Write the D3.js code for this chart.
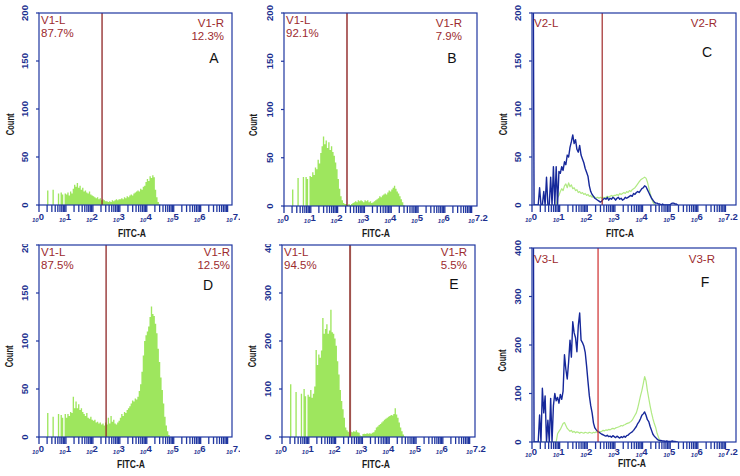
<!DOCTYPE html>
<html><head><meta charset="utf-8">
<script src="https://cdn.jsdelivr.net/npm/d3@7"></script>
<style>html,body{margin:0;padding:0;background:#fff;} svg{display:block;font-family:"Liberation Sans",Arial,sans-serif;}</style>
</head><body><svg id="c" width="740" height="476"></svg>
<script>
// ---------- data ----------
const BIN = 0.05; // decades per histogram bin (bin i starts at 10^(i*BIN))
const X_TICK_EXPS = [0, 1, 2, 3, 4, 5, 6, 7.2];
const X_TICK_LABELS = ["0", "1", "2", "3", "4", "5", "6", "7.2"];
const Y_TICKS_200 = [0, 50, 100, 150, 200];
const Y_TICKS_400 = [0, 100, 200, 300, 400];
const Y_MAX = [200, 200, 200, 200, 400, 400];
const PANEL_LETTERS = ["A", "B", "C", "D", "E", "F"];
const GATES = [2.34, 2.35, 2.54, 2.49, 2.54, 2.39]; // log10 of gate position
const GATE_LEFT = [["V1-L", "87.7%"], ["V1-L", "92.1%"], ["V2-L"], ["V1-L", "87.5%"], ["V1-L", "94.5%"], ["V3-L"]];
const GATE_RIGHT = [["V1-R", "12.3%"], ["V1-R", "7.9%"], ["V2-R"], ["V1-R", "12.5%"], ["V1-R", "5.5%"], ["V3-R"]];
const X_TITLE = "FITC-A";
const Y_TITLE = "Count";

const histA = [0,0,0,0,0,0,15,0,0,0,
  16,0,0,0,12,0,13,11,0,12,
  11,13,10,14,12,17,21,19,23,18,
  20,16,18,14,15,13,12,14,11,10,
  9,8,7,8,6,7,5,6,5,4,
  4,3,4,3,5,4,5,6,5,6,
  6,7,6,8,7,9,8,10,11,10,
  12,13,14,15,14,17,16,19,20,24,
  27,25,30,28,31,29,16,8,3,1];
const histB = [0,0,0,0,0,0,17,0,0,0,
  29,0,0,0,30,0,30,28,0,31,
  30,35,32,40,38,48,44,55,62,72,
  64,68,60,66,58,62,56,52,45,38,
  28,18,10,6,3,2,2,1,2,1,
  2,3,4,5,4,6,5,6,5,4,
  6,5,6,4,5,3,4,5,6,7,
  8,10,9,11,12,13,12,14,16,15,
  17,19,21,18,15,13,10,7,4,1];
const histCblue = [400,0,0,0,0,18,0,0,14,0,
  29,0,0,29,0,40,0,40,0,35,
  33,40,36,45,42,52,50,60,66,73,
  64,68,58,55,62,52,48,44,38,34,
  30,20,14,11,9,7,6,5,4,3,
  4,6,7,6,8,5,7,6,8,7,
  5,7,8,6,7,5,6,8,7,8,
  9,10,9,12,11,13,14,13,15,17,
  18,20,19,16,13,10,7,5,3,2,
  2,1,1,0,1,0,0,0,0,0,
  1,2,2,1,1,0];
const histCgreen = [0,0,0,0,0,0,0,0,0,0,
  0,0,0,0,0,0,0,0,8,10,
  14,17,15,20,22,18,23,19,21,17,
  18,15,16,13,14,12,13,11,12,10,
  11,9,10,8,9,8,7,8,7,8,
  7,8,7,8,9,8,9,10,9,10,
  10,11,10,12,11,12,13,12,14,13,
  15,14,16,17,18,20,22,24,26,27,
  28,29,28,24,18,12,7,3,1,0];
const histD = [0,0,0,0,0,0,25,0,0,0,
  21,0,0,0,24,0,23,20,0,24,
  20,24,22,26,25,42,30,37,30,34,
  28,30,26,24,22,25,20,19,21,18,
  17,18,15,16,14,15,13,14,12,15,
  13,20,14,22,16,18,14,13,15,17,
  20,24,22,26,25,28,30,32,35,38,
  37,40,39,42,48,55,68,85,100,106,
  110,115,125,136,128,126,118,108,92,78,
  62,49,35,21,12,6,2];
const histE = [0,0,0,0,0,0,110,0,0,0,
  94,0,0,0,90,0,100,85,0,88,
  84,98,82,90,105,181,150,172,165,180,
  248,215,225,235,215,222,265,218,215,205,
  190,158,130,98,75,58,40,20,14,11,
  9,11,10,12,11,14,10,9,3,2,
  6,7,6,8,7,8,7,9,10,14,
  20,22,25,27,30,33,36,38,40,42,
  44,46,45,48,60,47,40,30,20,12,
  5,1];
const histFblue = [900,0,0,0,0,56,0,111,60,95,
  0,45,0,90,0,75,100,85,92,80,
  98,88,105,180,150,130,165,210,175,248,
  225,215,186,240,266,210,205,198,185,157,
  125,95,75,60,39,29,25,22,20,18,
  16,15,13,12,14,11,12,10,13,11,
  9,12,10,8,11,9,12,10,13,14,
  17,19,21,24,28,32,38,42,48,55,
  58,62,55,46,42,32,24,16,12,9,
  6,4,3,3,2,2,1,2,1,1,
  1,2,1,1,0,0];
const histFgreen = [0,0,0,0,0,0,0,0,0,0,
  0,0,0,0,0,0,0,0,17,22,
  26,32,38,40,34,28,25,22,24,20,
  22,19,21,20,18,20,19,18,20,19,
  18,20,19,18,20,19,21,20,22,21,
  22,24,23,25,24,26,25,27,28,27,
  29,30,31,32,34,33,35,36,38,39,
  40,42,45,50,55,60,70,82,95,106,
  120,135,126,106,90,74,60,48,38,30,
  18,10,3,0];

// ---------- layout ----------
const FILL_SERIES = [histA, histB, null, histD, histE, null];
const LINE_SERIES = [[], [], [histCgreen, histCblue], [], [], [histFgreen, histFblue]];
const LAYOUT = [
  {f:[39,13,232,205], xr:[39,233], cell:[0,0,240,238], cdx:29, fitc:[132,237], tdy:15, lastDx:0, lx:41, ly:[24,37], rx:224, ry:[27,40], letter:[214,63], gc:"#8e2424", gw:1.3},
  {f:[284,13,477,206], xr:[284,477], cell:[240,0,490,238], cdx:31, fitc:[376,237], tdy:15, lastDx:-2, lx:286, ly:[24,37], rx:462, ry:[27,40], letter:[452,63], gc:"#8e2424", gw:1.4},
  {f:[532,13,736,205], xr:[532,731], cell:[490,0,740,238], cdx:29, fitc:[620,237], tdy:15, lastDx:-6, lx:534, ly:[27], rx:717, ry:[27], letter:[707,57], gc:"#a02a2a", gw:1.2},
  {f:[39,245,232,437], xr:[39,233], cell:[0,244,240,476], cdx:30, fitc:[131,468], tdy:15, lastDx:0, lx:41, ly:[256,269], rx:230, ry:[256,269], letter:[208,290], gc:"#8e2424", gw:1.3},
  {f:[282,245,475,437], xr:[282,475], cell:[240,244,490,476], cdx:30, fitc:[376,468], tdy:15, lastDx:-2, lx:284, ly:[256,269], rx:467, ry:[256,269], letter:[454,289], gc:"#a0524c", gw:2},
  {f:[532,248,736,442], xr:[532,731], cell:[490,239,740,476], cdx:30, fitc:[632,467], tdy:13, lastDx:-6, lx:534, ly:[263], rx:715, ry:[263], letter:[705,287], gc:"#d23c3c", gw:1.3}
];
const BLUE = "#1f36a0", TXTBLUE = "#1c2f8f", RED = "#9c2a2e", GREEN = "#9ee65e";
const LINE_COLORS = ["rgba(150,225,90,0.75)", "#16289a"];

const svg = d3.select("#c");
const defs = svg.append("defs");

LAYOUT.forEach((L, pi) => {
  const [x0, y0, x1, y1] = L.f;
  const c = L.cell;
  defs.append("clipPath").attr("id", "cell" + pi).append("rect")
    .attr("x", c[0]).attr("y", c[1]).attr("width", c[2] - c[0]).attr("height", c[3] - c[1]);
  defs.append("clipPath").attr("id", "plot" + pi).append("rect")
    .attr("x", x0).attr("y", y0).attr("width", x1 - x0).attr("height", y1 - y0);

  const g = svg.append("g").attr("clip-path", `url(#cell${pi})`);
  const x = d3.scaleLog().domain([1, Math.pow(10, 7.2)]).range(L.xr);
  const y = d3.scaleLinear().domain([0, Y_MAX[pi]]).range([y1, y0]);
  const yTicks = Y_MAX[pi] === 200 ? Y_TICKS_200 : Y_TICKS_400;
  const plot = g.append("g").attr("clip-path", `url(#plot${pi})`);

  // filled histogram
  const fill = FILL_SERIES[pi];
  if (fill) {
    const pts = fill.map((v, i) => [Math.pow(10, i * BIN), v]);
    pts.push([Math.pow(10, fill.length * BIN), 0]);
    plot.append("path").datum(pts)
      .attr("d", d3.area().x(d => x(d[0])).y0(y(0)).y1(d => y(d[1])).curve(d3.curveStepAfter))
      .attr("fill", GREEN).attr("stroke", "none");
  }
  // overlaid line histograms
  LINE_SERIES[pi].forEach((s, si) => {
    const pts = s.map((v, i) => [Math.pow(10, (i + 0.5) * BIN), v]);
    plot.append("path").datum(pts)
      .attr("d", d3.line().x(d => x(d[0])).y(d => y(d[1])))
      .attr("fill", "none").attr("stroke", LINE_COLORS[si])
      .attr("stroke-width", si === 0 ? 1.2 : 1.4).attr("stroke-linejoin", "round");
  });

  // gate line
  const gx = x(Math.pow(10, GATES[pi]));
  g.append("line").attr("x1", gx).attr("x2", gx).attr("y1", y0).attr("y2", y1)
    .attr("stroke", L.gc).attr("stroke-width", L.gw);

  // frame
  g.append("rect").attr("x", x0).attr("y", y0).attr("width", x1 - x0).attr("height", y1 - y0)
    .attr("fill", "none").attr("stroke", BLUE).attr("stroke-width", 1.2);

  // x minor/major ticks
  const tickVals = [];
  for (let d = 0; d < 7; d++) for (let k = 1; k <= 9; k++) tickVals.push(k * Math.pow(10, d));
  tickVals.push(1e7);
  g.selectAll(null).data(tickVals).enter().append("line")
    .attr("x1", d => x(d)).attr("x2", d => x(d)).attr("y1", y1).attr("y2", y1 + 7)
    .attr("stroke", BLUE).attr("stroke-width", 1.3);

  // x tick labels
  X_TICK_EXPS.forEach((e, i) => {
    const dx = i === X_TICK_EXPS.length - 1 ? L.lastDx : 0;
    const t = g.append("text").attr("x", x(Math.pow(10, e)) - 7 + dx).attr("y", y1 + L.tdy)
      .attr("fill", TXTBLUE).attr("font-weight", "bold");
    t.append("tspan").attr("font-size", 6).attr("font-style", "italic").attr("dy", 2).text("10");
    t.append("tspan").attr("font-size", 9.5).attr("dy", -2).text(X_TICK_LABELS[i]);
  });

  // y ticks + labels
  g.selectAll(null).data(yTicks).enter().append("line")
    .attr("x1", x0 - 3).attr("x2", x0).attr("y1", d => y(d)).attr("y2", d => y(d))
    .attr("stroke", BLUE).attr("stroke-width", 1.2);
  g.selectAll(null).data(yTicks).enter().append("text")
    .attr("transform", d => `translate(${x0 - 14},${y(d)}) rotate(-90)`)
    .attr("text-anchor", "middle").attr("dy", "0.35em")
    .attr("font-size", 9.5).attr("font-weight", "bold").attr("fill", TXTBLUE)
    .text(d => d);

  // axis titles
  g.append("text")
    .attr("transform", `translate(${x0 - L.cdx},${y0 + 0.58 * (y1 - y0)}) rotate(-90)`)
    .attr("text-anchor", "middle").attr("dy", "0.35em")
    .attr("font-size", 11).attr("font-weight", "bold").attr("fill", "#1a1a1a")
    .attr("textLength", 22).attr("lengthAdjust", "spacingAndGlyphs").text(Y_TITLE);
  g.append("text").attr("x", L.fitc[0]).attr("y", L.fitc[1]).attr("text-anchor", "middle")
    .attr("font-size", 11).attr("font-weight", "bold").attr("fill", "#1a1a1a")
    .attr("textLength", 28).attr("lengthAdjust", "spacingAndGlyphs").text(X_TITLE);

  // gate labels
  GATE_LEFT[pi].forEach((s, k) => {
    g.append("text").attr("x", L.lx).attr("y", L.ly[k]).attr("font-size", 11.5)
      .attr("fill", RED).text(s);
  });
  GATE_RIGHT[pi].forEach((s, k) => {
    g.append("text").attr("x", L.rx).attr("y", L.ry[k]).attr("font-size", 11.5)
      .attr("text-anchor", "end").attr("fill", RED).text(s);
  });

  // panel letter
  g.append("text").attr("x", L.letter[0]).attr("y", L.letter[1]).attr("text-anchor", "middle")
    .attr("font-size", 14).attr("fill", "#111").text(PANEL_LETTERS[pi]);
});
</script></body></html>
